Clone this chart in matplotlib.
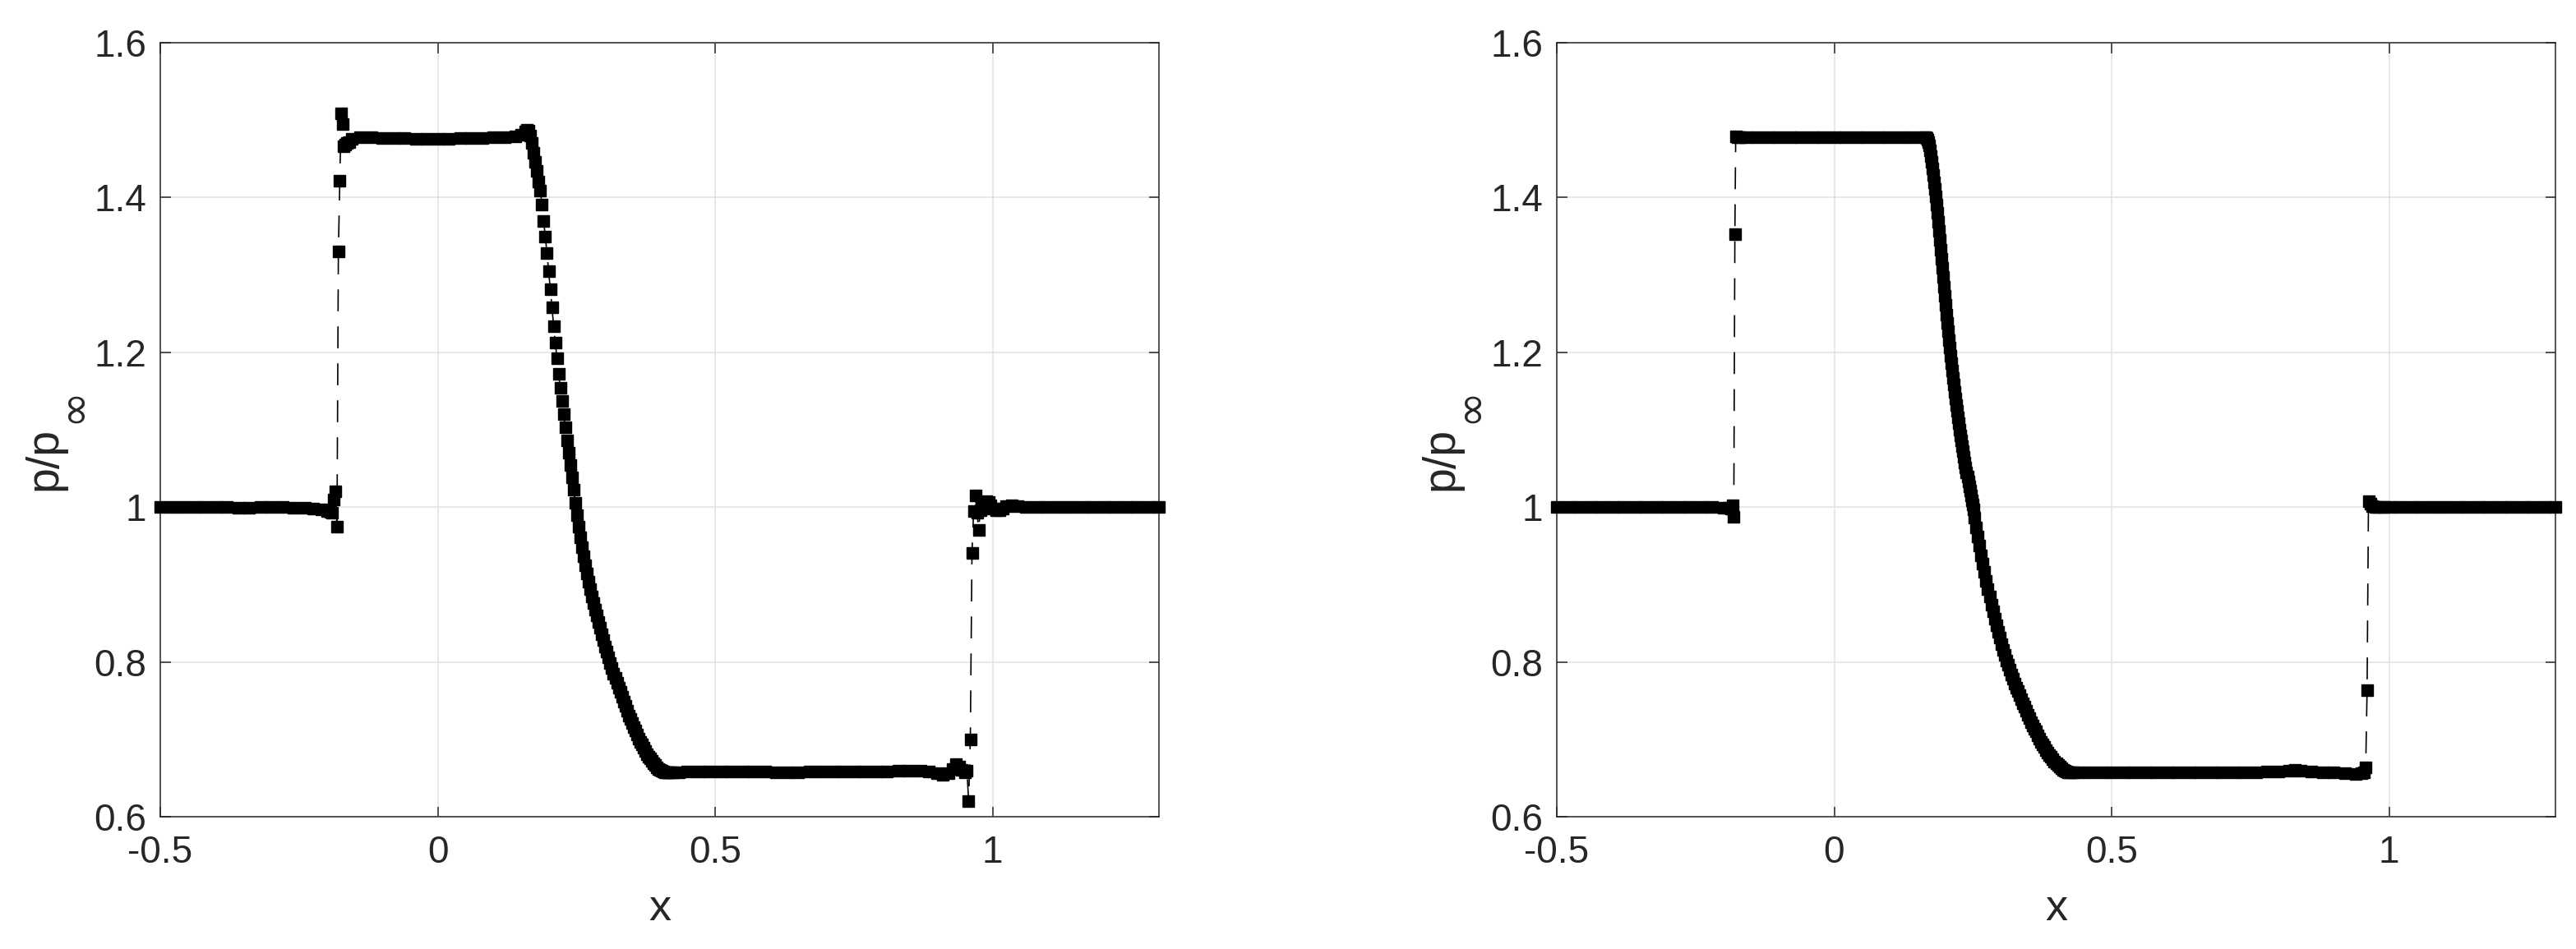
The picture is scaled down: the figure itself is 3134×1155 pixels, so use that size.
import matplotlib
matplotlib.use("Agg")
import matplotlib.pyplot as plt
import numpy as np

plt.rcParams['font.family'] = ['Liberation Sans', 'DejaVu Sans']
plt.rcParams['mathtext.default'] = 'regular'

# ---------------- data: left panel ----------------
L_x_flat1 = [-0.500, -0.480, -0.460, -0.440, -0.420, -0.400, -0.380, -0.360, -0.340, -0.320,
             -0.300, -0.280, -0.260, -0.240, -0.225, -0.210, -0.200]
L_y_flat1 = [1.000, 1.000, 1.000, 1.000, 1.000, 1.000, 1.000, 0.999, 0.999, 1.000,
             1.000, 1.000, 0.999, 0.999, 0.998, 0.997, 0.995]

L_x_shock1 = [-0.193, -0.190, -0.1875, -0.185, -0.1815, -0.179, -0.1765, -0.174, -0.1715,
              -0.169, -0.166, -0.163, -0.159, -0.155]
L_y_shock1 = [0.994, 0.993, 1.010, 1.020, 0.975, 1.330, 1.422, 1.509, 1.495,
              1.466, 1.468, 1.470, 1.472, 1.476]

L_x_plat1 = [-0.140, -0.120, -0.100, -0.080, -0.060, -0.040, -0.020, 0.000, 0.020, 0.040,
             0.060, 0.080, 0.100, 0.120, 0.140, 0.150, 0.158, 0.161]
L_y_plat1 = [1.478, 1.478, 1.477, 1.477, 1.477, 1.476, 1.476, 1.476, 1.476, 1.477,
             1.477, 1.477, 1.478, 1.478, 1.479, 1.481, 1.485, 1.487]

L_x_exp = [0.164, 0.167, 0.170, 0.173, 0.176, 0.179, 0.182, 0.185, 0.188, 0.191,
           0.194, 0.197, 0.200, 0.203, 0.206, 0.209, 0.212, 0.215, 0.218, 0.221,
           0.224, 0.227, 0.230, 0.233, 0.236, 0.239, 0.242, 0.245, 0.248, 0.251,
           0.254, 0.257, 0.260, 0.263, 0.266, 0.269, 0.272, 0.275, 0.278, 0.281,
           0.284, 0.287, 0.290, 0.293, 0.296, 0.299, 0.302, 0.305, 0.308, 0.311,
           0.314, 0.317, 0.320, 0.323, 0.326, 0.329, 0.332, 0.335, 0.338, 0.341,
           0.344, 0.347, 0.350, 0.353, 0.356, 0.359, 0.362, 0.365, 0.368, 0.371,
           0.374, 0.377, 0.380, 0.383, 0.386, 0.389, 0.392, 0.395, 0.398, 0.401,
           0.404, 0.407, 0.410, 0.413, 0.416, 0.419]
L_y_exp = [1.486, 1.480, 1.470, 1.458, 1.446, 1.434, 1.421, 1.409, 1.391, 1.370,
           1.349, 1.328, 1.305, 1.282, 1.258, 1.234, 1.212, 1.192, 1.172, 1.154,
           1.137, 1.120, 1.103, 1.086, 1.070, 1.054, 1.038, 1.022, 1.006, 0.990,
           0.975, 0.961, 0.948, 0.936, 0.925, 0.914, 0.904, 0.894, 0.885, 0.876,
           0.868, 0.860, 0.852, 0.844, 0.836, 0.828, 0.820, 0.813, 0.806, 0.799,
           0.792, 0.785, 0.779, 0.773, 0.767, 0.761, 0.755, 0.749, 0.743, 0.737,
           0.731, 0.726, 0.721, 0.716, 0.711, 0.706, 0.701, 0.697, 0.693, 0.689,
           0.685, 0.681, 0.678, 0.675, 0.672, 0.669, 0.667, 0.664, 0.662, 0.660,
           0.659, 0.658, 0.657, 0.657, 0.657, 0.657]

L_x_plat2 = [0.425, 0.435, 0.450, 0.470, 0.490, 0.510, 0.530, 0.550, 0.570, 0.590,
             0.610, 0.630, 0.650, 0.670, 0.690, 0.710, 0.730, 0.750, 0.770, 0.790,
             0.810, 0.830, 0.850, 0.870, 0.885, 0.900, 0.910, 0.920, 0.928, 0.934,
             0.940, 0.945, 0.950, 0.954]
L_y_plat2 = [0.657, 0.657, 0.658, 0.658, 0.658, 0.658, 0.658, 0.658, 0.658, 0.658,
             0.657, 0.657, 0.657, 0.658, 0.658, 0.658, 0.658, 0.658, 0.658, 0.658,
             0.658, 0.659, 0.659, 0.659, 0.658, 0.656, 0.654, 0.656, 0.662, 0.668,
             0.665, 0.660, 0.657, 0.659]

L_x_shock2 = [0.957, 0.960, 0.963, 0.966, 0.969, 0.972, 0.975, 0.978, 0.981, 0.985,
              0.989, 0.993, 0.997, 1.001, 1.006, 1.012, 1.018, 1.025, 1.035, 1.045]
L_y_shock2 = [0.620, 0.700, 0.941, 0.995, 1.015, 0.993, 0.971, 0.996, 1.003, 1.006,
              1.008, 1.007, 1.002, 0.998, 0.996, 0.996, 0.998, 1.001, 1.002, 1.001]

L_x_flat2 = [1.060, 1.080, 1.100, 1.120, 1.140, 1.160, 1.180, 1.200, 1.220, 1.240,
             1.260, 1.280, 1.300]
L_y_flat2 = [1.000, 1.000, 1.000, 1.000, 1.000, 1.000, 1.000, 1.000, 1.000, 1.000,
             1.000, 1.000, 1.000]

# ---------------- data: right panel ----------------
R_x_flat1 = [-0.500, -0.480, -0.460, -0.440, -0.420, -0.400, -0.380, -0.360, -0.340, -0.320,
             -0.300, -0.280, -0.260, -0.240, -0.220, -0.200, -0.190]
R_y_flat1 = [1.000, 1.000, 1.000, 1.000, 1.000, 1.000, 1.000, 1.000, 1.000, 1.000,
             1.000, 1.000, 1.000, 1.000, 1.000, 0.999, 0.999]

R_x_shock1 = [-0.1855, -0.183, -0.181, -0.179, -0.1775, -0.174, -0.170]
R_y_shock1 = [0.998, 1.002, 0.987, 1.353, 1.479, 1.478, 1.478]

R_x_plat1 = [-0.160, -0.140, -0.120, -0.100, -0.080, -0.060, -0.040, -0.020, 0.000, 0.020,
             0.040, 0.060, 0.080, 0.100, 0.120, 0.140, 0.160]
R_y_plat1 = [1.478, 1.478, 1.478, 1.478, 1.478, 1.478, 1.478, 1.478, 1.478, 1.478,
             1.478, 1.478, 1.478, 1.478, 1.478, 1.478, 1.478]

R_x_exp1 = [0.1650, 0.1665, 0.1680, 0.1695, 0.1710, 0.1725, 0.1740, 0.1755, 0.1770, 0.1785,
            0.1800, 0.1815, 0.1830, 0.1845, 0.1860, 0.1875, 0.1890, 0.1905, 0.1920, 0.1935,
            0.1950, 0.1965, 0.1980, 0.1995, 0.2010, 0.2025, 0.2040, 0.2055, 0.2070, 0.2085,
            0.2100, 0.2115, 0.2130, 0.2145, 0.2160, 0.2175, 0.2190, 0.2205, 0.2220, 0.2235,
            0.2250, 0.2265, 0.2280, 0.2295, 0.2310, 0.2325, 0.2340, 0.2355, 0.2370, 0.2385,
            0.2400, 0.2415, 0.2430, 0.2445, 0.2460, 0.2475, 0.2490, 0.2505]
R_y_exp1 = [1.478, 1.477, 1.475, 1.472, 1.467, 1.461, 1.454, 1.446, 1.438, 1.429,
            1.420, 1.411, 1.401, 1.391, 1.380, 1.369, 1.357, 1.345, 1.333, 1.321,
            1.309, 1.297, 1.285, 1.273, 1.261, 1.249, 1.238, 1.227, 1.216, 1.206,
            1.196, 1.186, 1.176, 1.167, 1.158, 1.149, 1.140, 1.132, 1.124, 1.116,
            1.108, 1.100, 1.093, 1.086, 1.079, 1.072, 1.065, 1.058, 1.051, 1.045,
            1.039, 1.033, 1.027, 1.021, 1.015, 1.009, 1.003, 0.997]

R_x_exp2 = [0.253, 0.256, 0.259, 0.262, 0.265, 0.268, 0.271, 0.274, 0.277, 0.280,
            0.283, 0.286, 0.289, 0.292, 0.295, 0.298, 0.301, 0.304, 0.307, 0.310,
            0.313, 0.316, 0.319, 0.322, 0.325, 0.328, 0.331, 0.334, 0.337, 0.340,
            0.343, 0.346, 0.349, 0.352, 0.355, 0.358, 0.361, 0.364, 0.367, 0.370,
            0.373, 0.376, 0.379, 0.382, 0.385, 0.388, 0.391, 0.394, 0.397, 0.400,
            0.403, 0.406, 0.409, 0.412, 0.415, 0.418, 0.421, 0.424]
R_y_exp2 = [0.986, 0.974, 0.962, 0.950, 0.938, 0.927, 0.916, 0.905, 0.894, 0.884,
            0.874, 0.865, 0.856, 0.847, 0.839, 0.831, 0.823, 0.816, 0.809, 0.802,
            0.796, 0.790, 0.784, 0.778, 0.772, 0.767, 0.762, 0.757, 0.752, 0.747,
            0.742, 0.737, 0.732, 0.727, 0.722, 0.718, 0.714, 0.710, 0.705, 0.701,
            0.697, 0.693, 0.690, 0.686, 0.683, 0.680, 0.677, 0.674, 0.671, 0.669,
            0.667, 0.665, 0.663, 0.661, 0.659, 0.658, 0.657, 0.657]

R_x_plat2 = [0.430, 0.440, 0.460, 0.480, 0.500, 0.520, 0.540, 0.560, 0.580, 0.600,
             0.620, 0.640, 0.660, 0.680, 0.700, 0.720, 0.740, 0.760, 0.780, 0.800,
             0.820, 0.830, 0.840, 0.860, 0.880, 0.900, 0.920, 0.940, 0.950, 0.9555]
R_y_plat2 = [0.657, 0.657, 0.657, 0.657, 0.657, 0.657, 0.657, 0.657, 0.657, 0.657,
             0.657, 0.657, 0.657, 0.657, 0.657, 0.657, 0.657, 0.657, 0.658, 0.658,
             0.659, 0.661, 0.659, 0.658, 0.657, 0.657, 0.656, 0.655, 0.656, 0.657]

R_x_shock2 = [0.958, 0.9605, 0.963, 0.966, 0.970, 0.975, 0.980, 0.990, 1.000]
R_y_shock2 = [0.664, 0.7635, 1.0076, 1.004, 1.001, 1.000, 1.000, 1.000, 1.000]

R_x_flat2 = [1.020, 1.040, 1.060, 1.080, 1.100, 1.120, 1.140, 1.160, 1.180, 1.200,
             1.220, 1.240, 1.260, 1.280, 1.300]
R_y_flat2 = [1.000, 1.000, 1.000, 1.000, 1.000, 1.000, 1.000, 1.000, 1.000, 1.000,
             1.000, 1.000, 1.000, 1.000, 1.000]

x_ticks = [-0.5, 0, 0.5, 1]
x_ticklabels = ['-0.5', '0', '0.5', '1']
y_ticks = [0.6, 0.8, 1.0, 1.2, 1.4, 1.6]
y_ticklabels = ['0.6', '0.8', '1', '1.2', '1.4', '1.6']
x_label = 'x'
y_label_main = 'p/p'
y_label_sub = '\u221e'

xL = np.array(L_x_flat1 + L_x_shock1 + L_x_plat1 + L_x_exp + L_x_plat2 + L_x_shock2 + L_x_flat2)
yL = np.array(L_y_flat1 + L_y_shock1 + L_y_plat1 + L_y_exp + L_y_plat2 + L_y_shock2 + L_y_flat2)
xR = np.array(R_x_flat1 + R_x_shock1 + R_x_plat1 + R_x_exp1 + R_x_exp2 + R_x_plat2 + R_x_shock2 + R_x_flat2)
yR = np.array(R_y_flat1 + R_y_shock1 + R_y_plat1 + R_y_exp1 + R_y_exp2 + R_y_plat2 + R_y_shock2 + R_y_flat2)

# ---------------- figure ----------------
W, H = 3134, 1155
fig = plt.figure(figsize=(W / 100, H / 100), dpi=100)
txt = '#262626'
ax_left_px = [195, 1894]
axes = [fig.add_axes([lp / W, (H - 994) / H, 1215 / W, 942 / H]) for lp in ax_left_px]

for ax, lp, (x, y) in zip(axes, ax_left_px, [(xL, yL), (xR, yR)]):
    ax.plot(x, y, color='k', lw=1.2, linestyle=(0, (16, 11)),
            marker='s', ms=9.5, mfc='k', mec='k', mew=1.0, clip_on=False, zorder=3)
    ax.set_xlim(-0.5, 1.3)
    ax.set_ylim(0.6, 1.6)
    ax.set_xticks(x_ticks)
    ax.set_xticklabels(x_ticklabels)
    ax.set_yticks(y_ticks)
    ax.set_yticklabels(y_ticklabels)
    ax.grid(True, color='#e2e2e2', lw=1.1)
    ax.set_axisbelow(True)
    ax.tick_params(direction='in', length=9, width=1.1, top=True, right=True,
                   labelsize=33, colors=txt)
    ax.tick_params(axis='x', pad=16)
    ax.tick_params(axis='y', pad=12)
    for s in ax.spines.values():
        s.set_color(txt)
        s.set_linewidth(1.1)
    ax.set_xlabel(x_label, fontsize=39, color=txt)
    ax.xaxis.set_label_coords(0.5, -0.092)
    # y label: "p/p" with a large subscript infinity (rotated)
    fig.text((lp - 127) / W, 1 - 558 / H, y_label_main, rotation=90, rotation_mode='anchor',
             ha='center', va='baseline', fontsize=40, color=txt)
    fig.text((lp - 106) / W, 1 - 493 / H, y_label_sub, rotation=90, rotation_mode='anchor',
             ha='center', va='center', fontsize=38, color=txt, family='DejaVu Sans')

fig.savefig('out.png', dpi=100, facecolor='white')
